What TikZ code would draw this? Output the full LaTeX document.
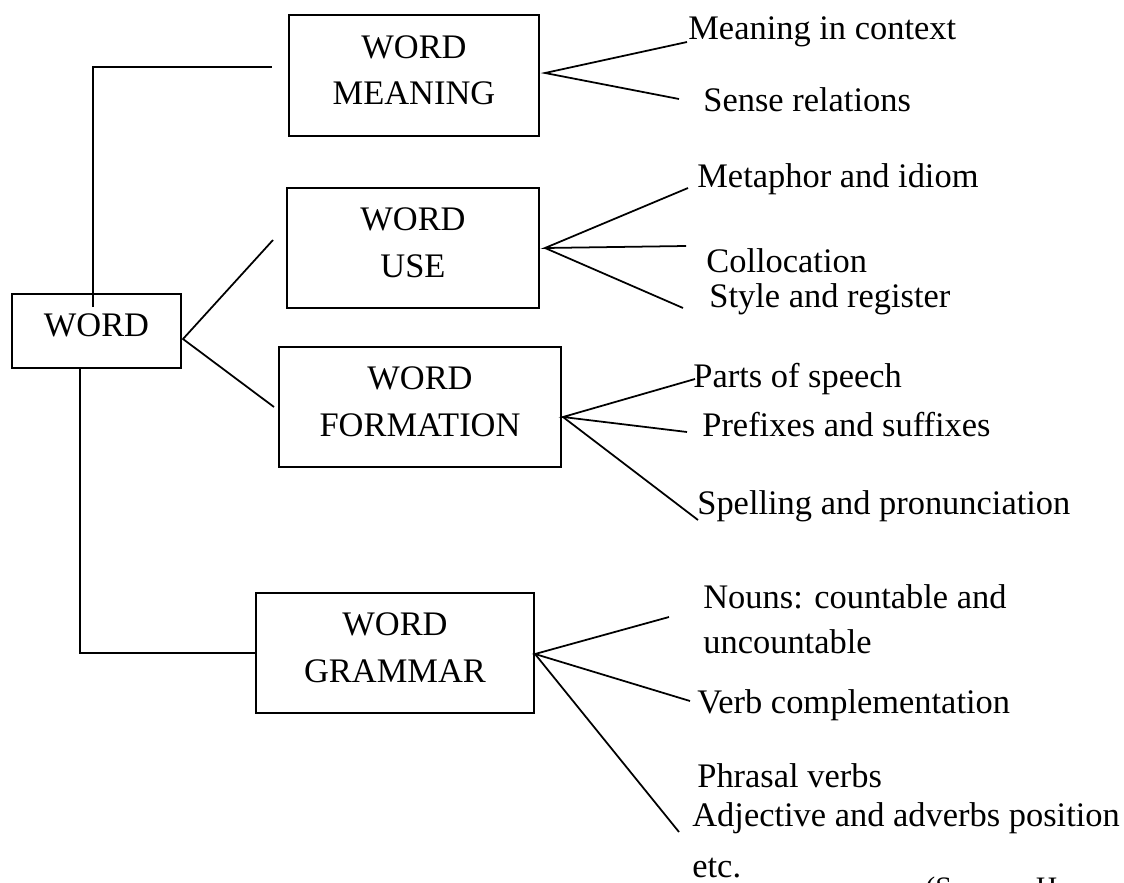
\documentclass[tikz,border=0pt]{standalone}
\usepackage{fontspec}
\setmainfont{Liberation Serif}
\usepackage{tikz}
\tikzstyle{box} = [rectangle, draw=black, line width=1pt, align=center, inner sep=0pt, text depth=0.22cm]
\tikzstyle{item} = [anchor=base west, inner sep=0pt, align=left]
\tikzstyle{link} = [line width=1pt]

\begin{document}
\begin{tikzpicture}[x=0.02cm, y=-0.02cm, font=\fontsize{19.6}{26.5}\selectfont]
        \useasboundingbox (0,0) rectangle (1124,882);
        \clip (0,0) rectangle (1124,882);
        % boxes
        \node (word) [box, minimum width=3.38cm, minimum height=1.48cm] at (96.5,331) {WORD};
        \node (meaning) [box, minimum width=5cm, minimum height=2.42cm] at (414,75.5) {WORD\\MEANING};
        \node (use) [box, minimum width=5.04cm, minimum height=2.4cm] at (413,248) {WORD\\USE};
        \node (formation) [box, minimum width=5.64cm, minimum height=2.4cm] at (420,407) {WORD\\FORMATION};
        \node (grammar) [box, minimum width=5.56cm, minimum height=2.4cm] at (395,653) {WORD\\GRAMMAR};
        % items
        \node (mic) [item] at (688,40) {Meaning in context};
        \node (sr) [item] at (703,112) {Sense relations};
        \node (mi) [item] at (697,187) {Metaphor and idiom};
        \node (col) [item] at (706,272) {Collocation};
        \node (sar) [item] at (709,307) {Style and register};
        \node (pos) [item] at (693,387) {Parts of speech};
        \node (pas) [item] at (702,436) {Prefixes and suffixes};
        \node (sap) [item] at (697,514) {Spelling and pronunciation};
        \node (nouns) [item, font=\fontsize{19.6}{25.5}\selectfont] at (703,653) {Nouns: countable and\\uncountable};
        \node (vc) [item] at (697,713) {Verb complementation};
        \node (pv) [item] at (697,787) {Phrasal verbs};
        \node (aap) [item] at (692,826) {Adjective and adverbs position};
        \node (etc) [item] at (692,877) {etc.};
        \node (src) [item, font=\fontsize{16.9}{20}\selectfont] at (925,897) {(Source: H};
        % word links
        \coordinate (wm) at (93,307);
        \coordinate (wm2) at (272,67);
        \coordinate (wr) at (183,339);
        \coordinate (wu) at (273,240);
        \coordinate (wf) at (274,407);
        \coordinate (wg) at (80,368);
        \draw [link] (wm) |- (wm2);
        \draw [link] (wu) -- (wr) -- (wf);
        \draw [link] (wg) |- (grammar.west);
        % fans
        \coordinate (ma) at (545,73);
        \coordinate (m1) at (687,42);
        \coordinate (m2) at (679,99);
        \draw [link] (m1) -- (ma) -- (m2);
        \coordinate (ua) at (545,248);
        \coordinate (u1) at (688,188);
        \coordinate (u2) at (686,246);
        \coordinate (u3) at (683,308);
        \draw [link] (u1) -- (ua) -- (u2);
        \draw [link] (ua) -- (u3);
        \coordinate (fa) at (563,417);
        \coordinate (f1) at (695,379);
        \coordinate (f2) at (687,432);
        \coordinate (f3) at (698,520);
        \draw [link] (f1) -- (fa) -- (f2);
        \draw [link] (fa) -- (f3);
        \coordinate (ga) at (535,654);
        \coordinate (g1) at (669,617);
        \coordinate (g2) at (690,701);
        \coordinate (g3) at (679,832);
        \draw [link] (g1) -- (ga) -- (g2);
        \draw [link] (ga) -- (g3);
    \end{tikzpicture}
\end{document}
